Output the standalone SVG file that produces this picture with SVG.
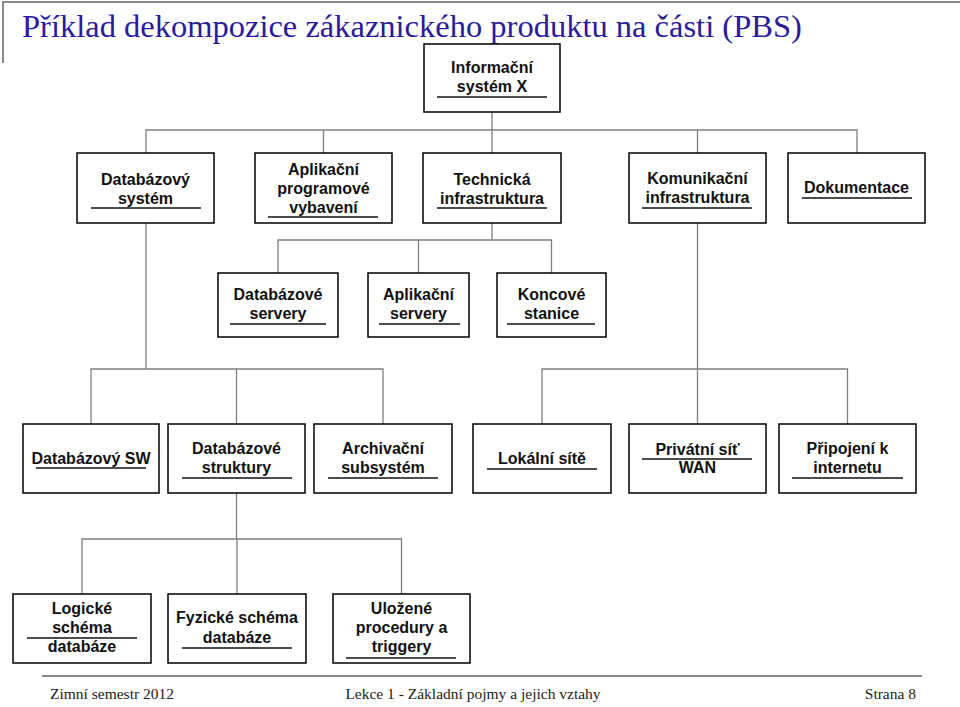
<svg xmlns="http://www.w3.org/2000/svg" width="960" height="707" viewBox="0 0 960 707">
<style>
.bg{fill:#ffffff}
.box{fill:#ffffff;stroke:#000000;stroke-width:1.5}
.t{font-family:"Liberation Sans",Arial,sans-serif;font-weight:bold;font-size:16px;fill:#111111;text-anchor:middle}
.ul{stroke:#111111;stroke-width:1.5}
.conn{stroke:#7f7f7f;stroke-width:1.3;fill:none}
.frame{stroke:#8a8a8a;stroke-width:2;fill:none}
.title{font-family:"Liberation Serif","Times New Roman",serif;font-size:32.5px;fill:#2B1B9B}
.foot{font-family:"Liberation Serif","Times New Roman",serif;font-size:15.5px;fill:#222222}
</style>
<rect class="bg" x="0" y="0" width="960" height="707"/>
<path class="frame" d="M3,63 V2 H960"/>
<text class="title" x="22" y="37">Příklad dekompozice zákaznického produktu na části (PBS)</text>

<g id="connectors">
<path class="conn" d="M492,112 V130 M146,153 V130 H857 V153 M323.5,130 V153 M492,130 V153 M697.5,130 V153"/>
<path class="conn" d="M492,223 V240 M278,273 V240 H551.5 V273 M418.5,240 V273"/>
<path class="conn" d="M146,223 V369 M91,424 V369 H383 V424 M236.5,369 V424"/>
<path class="conn" d="M697.5,223 V424 M542,424 V369 H847.5 V424"/>
<path class="conn" d="M236.5,493 V539 M82,594 V539 H401.5 V594 M237,539 V594"/>
</g>

<g id="n_root">
<rect class="box" x="424" y="44" width="136" height="68"/>
<text class="t" x="492" y="73">Informační</text>
<text class="t" x="492" y="92">systém X</text>
<line class="ul" x1="437" y1="97" x2="547" y2="97"/>
</g>

<g id="n_dbsys">
<rect class="box" x="77" y="153" width="137" height="70"/>
<text class="t" x="145.5" y="185">Databázový</text>
<text class="t" x="145.5" y="204">systém</text>
<line class="ul" x1="91" y1="208" x2="201" y2="208"/>
</g>

<g id="n_apv">
<rect class="box" x="255" y="153" width="137" height="70"/>
<text class="t" x="323.5" y="175">Aplikační</text>
<text class="t" x="323.5" y="194">programové</text>
<text class="t" x="323.5" y="213">vybavení</text>
<line class="ul" x1="268" y1="217" x2="378" y2="217"/>
</g>

<g id="n_tech">
<rect class="box" x="423" y="153" width="138" height="70"/>
<text class="t" x="492" y="185">Technická</text>
<text class="t" x="492" y="204">infrastruktura</text>
<line class="ul" x1="437" y1="208" x2="547" y2="208"/>
</g>

<g id="n_kom">
<rect class="box" x="629" y="153" width="137" height="70"/>
<text class="t" x="697.5" y="184">Komunikační</text>
<text class="t" x="697.5" y="203">infrastruktura</text>
<line class="ul" x1="642" y1="208" x2="752" y2="208"/>
</g>

<g id="n_dok">
<rect class="box" x="788" y="153" width="137" height="70"/>
<text class="t" x="856.5" y="193">Dokumentace</text>
<line class="ul" x1="802" y1="198" x2="912" y2="198"/>
</g>

<g id="n_dbserv">
<rect class="box" x="218" y="273" width="120" height="64"/>
<text class="t" x="278" y="300">Databázové</text>
<text class="t" x="278" y="319">servery</text>
<line class="ul" x1="230" y1="324" x2="326" y2="324"/>
</g>

<g id="n_appserv">
<rect class="box" x="368" y="273" width="101" height="64"/>
<text class="t" x="418.5" y="300">Aplikační</text>
<text class="t" x="418.5" y="319">servery</text>
<line class="ul" x1="379" y1="324" x2="460" y2="324"/>
</g>

<g id="n_konc">
<rect class="box" x="497" y="273" width="109" height="64"/>
<text class="t" x="551.5" y="300">Koncové</text>
<text class="t" x="551.5" y="319">stanice</text>
<line class="ul" x1="507" y1="324" x2="595" y2="324"/>
</g>

<g id="n_dbsw">
<rect class="box" x="23" y="424" width="136" height="69"/>
<text class="t" x="91" y="464">Databázový SW</text>
<line class="ul" x1="36" y1="468" x2="146" y2="468"/>
</g>

<g id="n_dbstr">
<rect class="box" x="168" y="424" width="137" height="69"/>
<text class="t" x="236.5" y="454">Databázové</text>
<text class="t" x="236.5" y="473">struktury</text>
<line class="ul" x1="182" y1="478" x2="292" y2="478"/>
</g>

<g id="n_arch">
<rect class="box" x="314" y="424" width="138" height="69"/>
<text class="t" x="383" y="454">Archivační</text>
<text class="t" x="383" y="473">subsystém</text>
<line class="ul" x1="328" y1="478" x2="438" y2="478"/>
</g>

<g id="n_lan">
<rect class="box" x="473" y="424" width="138" height="69"/>
<text class="t" x="542" y="464">Lokální sítě</text>
<line class="ul" x1="487" y1="469" x2="597" y2="469"/>
</g>

<g id="n_wan">
<rect class="box" x="629" y="424" width="137" height="69"/>
<text class="t" x="697.5" y="455">Privátní síť</text>
<line class="ul" x1="642" y1="459" x2="752" y2="459"/>
<text class="t" x="697.5" y="473">WAN</text>
</g>

<g id="n_inet">
<rect class="box" x="779" y="424" width="137" height="69"/>
<text class="t" x="847.5" y="454">Připojení k</text>
<text class="t" x="847.5" y="473">internetu</text>
<line class="ul" x1="792" y1="478" x2="903" y2="478"/>
</g>

<g id="n_log">
<rect class="box" x="13" y="594" width="138" height="69"/>
<text class="t" x="82" y="614">Logické</text>
<text class="t" x="82" y="633">schéma</text>
<line class="ul" x1="27" y1="638" x2="137" y2="638"/>
<text class="t" x="82" y="652">databáze</text>
</g>

<g id="n_fyz">
<rect class="box" x="168" y="594" width="138" height="69"/>
<text class="t" x="237" y="623">Fyzické schéma</text>
<text class="t" x="237" y="643">databáze</text>
<line class="ul" x1="182" y1="648" x2="292" y2="648"/>
</g>

<g id="n_proc">
<rect class="box" x="333" y="594" width="137" height="69"/>
<text class="t" x="401.5" y="614">Uložené</text>
<text class="t" x="401.5" y="633">procedury a</text>
<text class="t" x="401.5" y="652">triggery</text>
<line class="ul" x1="346" y1="658" x2="456" y2="658"/>
</g>

<line x1="42" y1="676" x2="922" y2="676" stroke="#8a8a8a" stroke-width="2"/>
<text class="foot" x="50" y="699">Zimní semestr 2012</text>
<text class="foot" x="473" y="699" text-anchor="middle">Lekce 1 - Základní pojmy a jejich vztahy</text>
<text class="foot" x="916" y="699" text-anchor="end">Strana 8</text>
</svg>
